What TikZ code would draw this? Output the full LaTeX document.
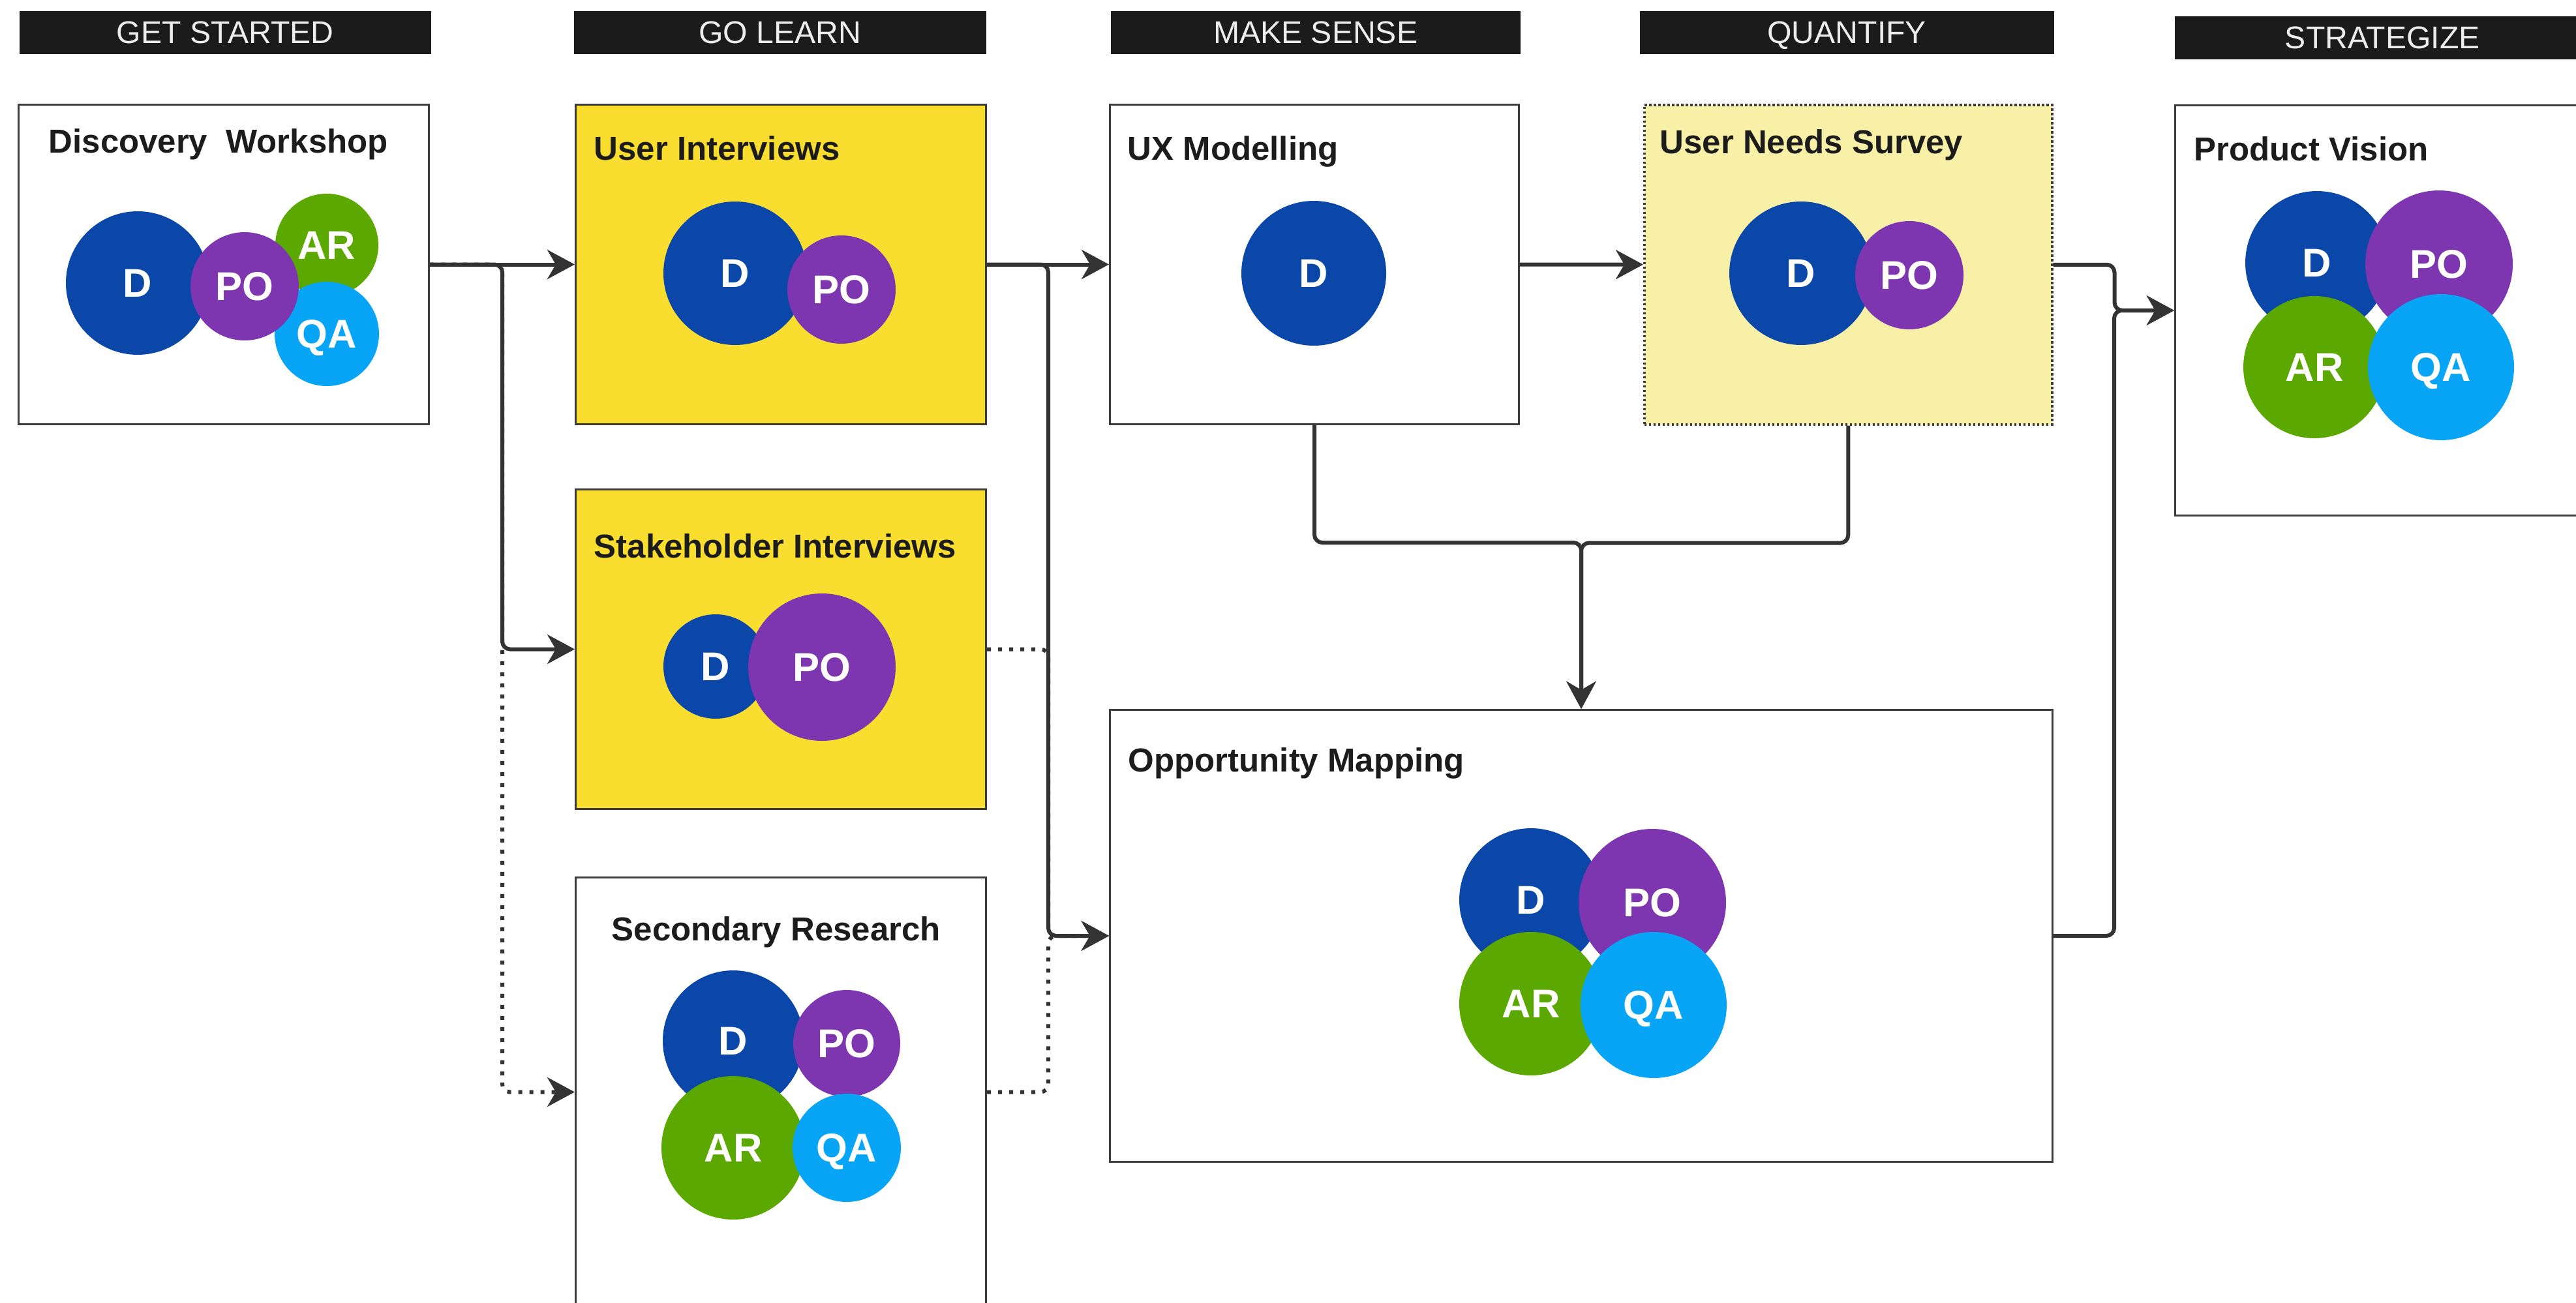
\documentclass[tikz,border=0pt]{standalone}
\usepackage{fontspec}
\setmainfont{Liberation Sans}
\usetikzlibrary{arrows.meta}

\definecolor{barblack}{HTML}{1B1B1B}
\definecolor{barwhite}{HTML}{EDEDED}
\definecolor{edgegray}{HTML}{3C3C3C}
\definecolor{arrowgray}{HTML}{333333}
\definecolor{titleblack}{HTML}{1C1C1C}
\definecolor{learnyellow}{HTML}{F9DE30}
\definecolor{paleyellow}{HTML}{F9F0A8}
\definecolor{roleD}{HTML}{0A47A8}
\definecolor{rolePO}{HTML}{7E35B0}
\definecolor{roleAR}{HTML}{5AA800}
\definecolor{roleQA}{HTML}{08A5F7}

\tikzset{
  phase/.style={fill=barblack, text=barwhite, anchor=north west, inner sep=0pt,
    text depth=0pt, minimum height=0.66cm, font=\fontsize{13.7}{16}\selectfont},
  stage/.style={draw=edgegray, line width=0.3mm, anchor=north west, inner sep=0pt},
  title/.style={anchor=base west, text=titleblack, inner sep=0pt,
    font=\bfseries\fontsize{14.5}{17}\selectfont},
  role/.style={circle, inner sep=0pt, text depth=0pt, text=white,
    font=\bfseries\fontsize{17.5}{20}\selectfont},
  flow/.style={-{Stealth[length=4.2mm, width=4.5mm, inset=1.3mm]}, draw=arrowgray,
    line width=0.6mm, rounded corners=0.12cm},
  maybe/.style={flow, dash pattern=on 0.6mm off 1.1mm}
}

\begin{document}
\begin{tikzpicture}

    \useasboundingbox (0,0) rectangle (39.49,-19.97);
    \clip (0,0) rectangle (39.49,-19.97);

    % Phasen
    \node[phase, minimum width=6.31cm] (started) at (0.29,-0.16) {GET STARTED};
    \node[phase, minimum width=6.32cm] (learn) at (8.79,-0.16) {GO LEARN};
    \node[phase, minimum width=6.28cm] (sense) at (17.02,-0.16) {MAKE SENSE};
    \node[phase, minimum width=6.35cm] (quantify) at (25.13,-0.16) {QUANTIFY};
    \node[phase, minimum width=6.37cm] (strategize) at (33.33,-0.24) {STRATEGIZE};

    % Kaesten
    \node[stage, minimum width=6.29cm, minimum height=4.90cm] (dw) at (0.27,-1.59) {};
    \node[stage, fill=learnyellow, minimum width=6.29cm, minimum height=4.90cm] (ui) at (8.81,-1.59) {};
    \node[stage, fill=learnyellow, minimum width=6.29cm, minimum height=4.90cm] (si) at (8.81,-7.49) {};
    \node[stage, minimum width=6.29cm, minimum height=6.58cm] (sr) at (8.81,-13.44) {};
    \node[stage, minimum width=6.27cm, minimum height=4.90cm] (ux) at (17.00,-1.59) {};
    \node[stage, fill=paleyellow, line width=0.35mm, dash pattern=on 0.35mm off 0.35mm,
      minimum width=6.25cm, minimum height=4.90cm] (uns) at (25.19,-1.59) {};
    \node[stage, minimum width=14.45cm, minimum height=6.93cm] (om) at (17.00,-10.87) {};
    \node[stage, minimum width=7.00cm, minimum height=6.29cm] (pv) at (33.33,-1.60) {};

    % Titel
    \node[title] (dwTitle) at (0.74,-2.34) {Discovery\ \ Workshop};
    \node[title] (uiTitle) at (9.10,-2.45) {User Interviews};
    \node[title] (siTitle) at (9.10,-8.55) {Stakeholder Interviews};
    \node[title] (srTitle) at (9.37,-14.42) {Secondary Research};
    \node[title] (uxTitle) at (17.28,-2.45) {UX Modelling};
    \node[title] (unsTitle) at (25.44,-2.35) {User Needs Survey};
    \node[title] (omTitle) at (17.29,-11.83) {Opportunity Mapping};
    \node[title] (pvTitle) at (33.63,-2.46) {Product Vision};

    % Rollen: Discovery Workshop
    \node[role, fill=roleD, minimum size=2.20cm] (dwD) at (2.11,-4.34) {D};
    \node[role, fill=roleAR, minimum size=1.58cm] (dwAR) at (5.01,-3.76) {AR};
    \node[role, fill=roleQA, minimum size=1.60cm] (dwQA) at (5.01,-5.12) {QA};
    \node[role, fill=rolePO, minimum size=1.66cm] (dwPO) at (3.75,-4.39) {PO};

    % Rollen: User Interviews
    \node[role, fill=roleD, minimum size=2.20cm] (uiD) at (11.27,-4.19) {D};
    \node[role, fill=rolePO, minimum size=1.66cm] (uiPO) at (12.90,-4.44) {PO};

    % Rollen: Stakeholder Interviews
    \node[role, fill=roleD, minimum size=1.60cm] (siD) at (10.97,-10.22) {D};
    \node[role, fill=rolePO, minimum size=2.26cm] (siPO) at (12.60,-10.23) {PO};

    % Rollen: Secondary Research
    \node[role, fill=roleD, minimum size=2.16cm] (srD) at (11.24,-15.96) {D};
    \node[role, fill=rolePO, minimum size=1.64cm] (srPO) at (12.98,-16.00) {PO};
    \node[role, fill=roleAR, minimum size=2.20cm] (srAR) at (11.24,-17.60) {AR};
    \node[role, fill=roleQA, minimum size=1.66cm] (srQA) at (12.98,-17.60) {QA};

    % Rollen: UX Modelling
    \node[role, fill=roleD, minimum size=2.22cm] (uxD) at (20.14,-4.19) {D};

    % Rollen: User Needs Survey
    \node[role, fill=roleD, minimum size=2.20cm] (unsD) at (27.61,-4.19) {D};
    \node[role, fill=rolePO, minimum size=1.66cm] (unsPO) at (29.27,-4.22) {PO};

    % Rollen: Opportunity Mapping
    \node[role, fill=roleD, minimum size=2.20cm] (omD) at (23.47,-13.80) {D};
    \node[role, fill=rolePO, minimum size=2.26cm] (omPO) at (25.33,-13.84) {PO};
    \node[role, fill=roleAR, minimum size=2.20cm] (omAR) at (23.47,-15.39) {AR};
    \node[role, fill=roleQA, minimum size=2.24cm] (omQA) at (25.35,-15.41) {QA};

    % Rollen: Product Vision
    \node[role, fill=roleD, minimum size=2.20cm] (pvD) at (35.52,-4.03) {D};
    \node[role, fill=rolePO, minimum size=2.26cm] (pvPO) at (37.39,-4.05) {PO};
    \node[role, fill=roleAR, minimum size=2.18cm] (pvAR) at (35.48,-5.63) {AR};
    \node[role, fill=roleQA, minimum size=2.24cm] (pvQA) at (37.42,-5.63) {QA};

    % Pfeile obere Zeile
    \draw[flow] (dw) -- (ui);
    \draw[flow] (ui) -- (ux);
    \draw[flow] (ux) -- (uns);

    % Verzweigungen
    \draw[flow] (dw.east) -- ++(1.11,0) |- (si.west);
    \draw[maybe] (dw.east) -- ++(1.11,0) |- (sr.west);
    \draw[flow] (ui.east) -- ++(0.94,0) |- (om.west);
    \draw[maybe] (si.east) -- ++(0.94,0) |- (om.west);
    \draw[maybe] (sr.east) -- ++(0.94,0) |- (om.west);

    % Zusammenfuehrung
    \draw[flow] (ux.south) -- ++(0,-1.8) -| (om.north);
    \draw[flow] (uns.south) -- ++(0,-1.8) -| (om.north);
    \draw[flow] (uns.east) -- ++(0.94,0) |- (pv.west);
    \draw[flow] (om.east) -- ++(0.93,0) |- (pv.west);

\end{tikzpicture}
\end{document}
